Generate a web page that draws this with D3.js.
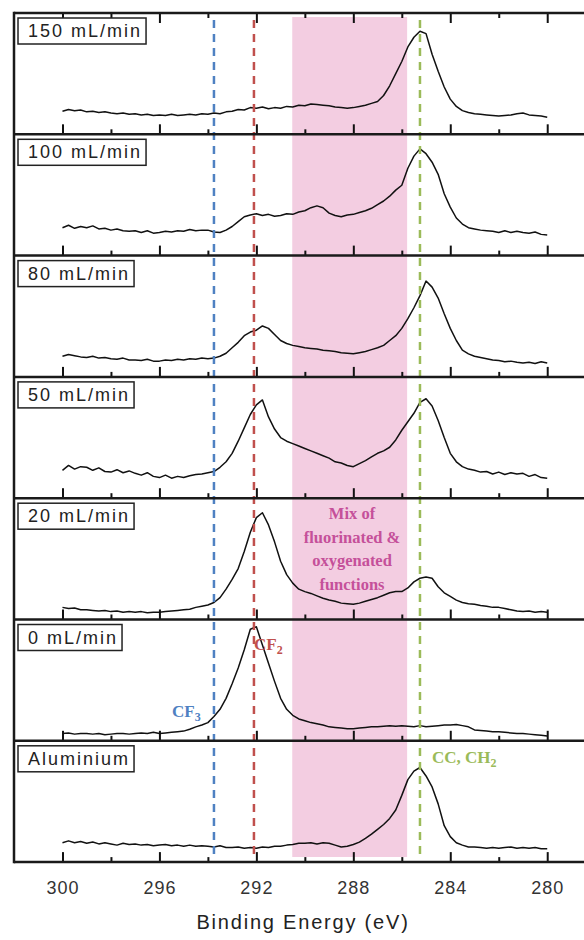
<!DOCTYPE html>
<html><head><meta charset="utf-8">
<script src="https://cdn.jsdelivr.net/npm/d3@7"></script>
<style>body{margin:0;background:#fff}svg{display:block}</style>
</head><body><svg id="c" width="584" height="940"></svg>
<script>
// Binding energy grid (eV), 300 -> 280 in 0.25 eV steps
const energies = d3.range(0, 81).map(i => 300 - i * 0.25);
const panelLabels = ["150 mL/min","100 mL/min","80 mL/min","50 mL/min","20 mL/min","0 mL/min","Aluminium"];
// intensities in % of panel height
const s150 = [19,20.5,19.5,20, 18.5,19,18,18.5, 17.5,17,17.5,16.5, 17,16,16.5,15.5, 16,15.5,16.5,15.5,
  16,16.5,16,17, 16.5,17.5,17,18.5, 19,20.5,20,22, 21.5,22.5,21,22, 21.5,23,22.5,24,
  23.5,25,24.5,24, 23.5,22.5,22,21.5, 22,23,24,25.5, 27,32,40,50, 60,72,80,85,
  83,66,52,39, 29,23,19.5,18, 17,16.5,16,15.5, 15,15.5,16,17, 17.5,16,15.5,15, 14];
const s100 = [23,25,22.5,24, 23,24.5,22,22.5, 21,22,20.5,20, 20.5,19,20.5,18.5, 19,20,19.5,20.5,
  20,21.5,20.5,21, 21,19.5,19,21, 24,28,32,33.5, 34.5,33,34,32.5, 33,34.5,34,36,
  37,39.5,41,39.5, 35,33,32,33.5, 34,35.5,37,39, 42,45,49,54, 58,72,82,88,
  84,77,67,51, 40,31,26,23, 22,21,20.5,20, 19,20.5,19,20, 19,18.5,19.5,17.5, 17];
const s80  = [17,18.5,17.5,16.5, 16,17,15.5,16, 15,14.5,15.5,14, 14,13.5,14.5,13, 13,14,13.5,14.5,
  14,15,14.5,15.5, 15,15.5,17,19.5, 24,28.5,34,37, 38.5,42,40,35, 30,27.5,26,25,
  24,23.5,23,22, 21.5,21,20,19.5, 19,20,21,22.5, 24,26,30,34, 40,48,57,67,
  79,74,65,52, 40,30,22,19, 17,16,15,14, 13.5,12.5,13,12, 11.5,12,11,12.5, 11.5];
const s50  = [23,27,24,26, 25.5,23,25,22, 21.5,23.5,21,22.5, 20.5,19,21,18, 17,19,16.5,18,
  17,18.5,19.5,20, 21,22,25.5,30, 37,47,58,69, 77,81,67,57, 50,47,45,43,
  41,39,37,35, 33,30,29,27, 26,28.5,31,34, 37,39,42,48, 56,63,70,79,
  82,76,64,50, 37,30,26,24, 23,21.5,22,20, 21.5,19.5,21,20, 20.5,18,19.5,17, 16.5];
const s20  = [10,9,9.5,8, 8,7.5,7,7.5, 6.5,7,6,6.5, 6,6.5,5.5,6, 6,6.5,7,7.5,
  8,8.5,10,11, 12,14,18,25, 33,42,56,72, 84,88,78,64, 48,37,30,25,
  23,21.5,19.5,17.5, 16,15,13.5,13, 12.5,13.5,15,16.5, 18,20,22,23, 23,26,31,34,
  35,34,27,22, 19,16,14,13, 12.5,11.5,11,10, 10,9,8,7, 6.5,7,6,6.5, 6];
const s0   = [6,6.5,5.5,6, 6,5.5,6,5, 5.5,6,6,5.5, 6,6.5,6,7, 6,6.5,7,7.5,
  8,9.5,11.5,13, 15,20,26,35, 47,60,75,92, 94,79,64,49, 35,26,21,18,
  16.5,15,14,13, 11.5,11,10.5,10, 10,10.5,11,11.5, 11.5,12,12.5,12, 12.5,12,11.5,12.5,
  11.5,12,12.5,13, 13,13.5,12.5,11.5, 9,8.5,8,7.5, 7.5,7,6.5,6, 6,5.5,5,4.5, 4];
const sAl  = [16,17.5,16,17, 15.5,16.5,15,16, 15,14,15.5,14.5, 15,14,14.5,13.5, 14,14.5,13.5,14,
  13,14,13,13.5, 13,12.5,13.5,12, 12,12.5,11.5,12, 11.5,12.5,12,13, 13,14,14.5,15.5,
  15.5,16,15,16, 15.5,14,12.5,13, 14.5,16.5,19.5,23, 27,31,36,43, 55,68,75,78,
  71,62,48,30, 21,16,14,12.5, 12.5,12,11.5,12, 11.5,12,12.5,11.5, 12,11.5,12,11, 11];
const series = [s150, s100, s80, s50, s20, s0, sAl];
const majorTicks = [300,296,292,288,284,280];
const minorTicks = [298,294,290,286,282];
const refLines = [
  {e: 293.75, color: "#4f81c2"},
  {e: 292.1, color: "#c0504d"},
  {e: 285.25, color: "#9bbb59"}
];
const bandRange = [290.52, 285.78];

const svg = d3.select("#c");
const leftX = 14, rightX = 584, topY = 13, ph = 121.3, nP = 7;
const bottomY = topY + ph * nP;
const x = d3.scaleLinear().domain([302, 278.4]).range([leftX, 586]);

// pink band
svg.append("rect")
  .attr("x", x(bandRange[0])).attr("y", 17)
  .attr("width", x(bandRange[1]) - x(bandRange[0]))
  .attr("height", 857 - 17)
  .attr("fill", "#f3cde1");

// curves
series.forEach((vals, i) => {
  const pt = topY + i * ph;
  const y = d3.scaleLinear().domain([0, 100]).range([pt + ph, pt]);
  const line = d3.line().x(d => x(d[0])).y(d => y(d[1]));
  svg.append("path")
    .datum(energies.map((e, k) => [e, vals[k]]))
    .attr("d", line)
    .attr("fill", "none").attr("stroke", "#111").attr("stroke-width", 1.5)
    .attr("stroke-linejoin", "round");
});

// reference dashed lines
refLines.forEach(r => {
  svg.append("line")
    .attr("x1", x(r.e)).attr("x2", x(r.e))
    .attr("y1", 20).attr("y2", 857)
    .attr("stroke", r.color).attr("stroke-width", 2.5)
    .attr("stroke-dasharray", "8,6");
});

// frame and ticks
for (let i = 0; i < nP; i++) {
  const pb = topY + (i + 1) * ph;
  const gMaj = svg.append("g").attr("transform", `translate(0,${pb})`)
    .call(d3.axisBottom(x).tickValues(majorTicks).tickSize(-10)
      .tickFormat(i === nP - 1 ? d3.format("d") : () => "").tickPadding(16));
  const gMin = svg.append("g").attr("transform", `translate(0,${pb})`)
    .call(d3.axisBottom(x).tickValues(minorTicks).tickSize(-5).tickFormat(() => ""));
  [gMaj, gMin].forEach(g => {
    g.select(".domain").remove();
    g.selectAll(".tick line").attr("stroke", "#111").attr("stroke-width", 2);
  });
  gMaj.selectAll(".tick text")
    .attr("font-family", "Liberation Sans, Arial, sans-serif")
    .attr("font-size", 18).attr("fill", "#333").attr("letter-spacing", "1px")
    .attr("dy", "0.9em");
}
// top ticks
const gTop = svg.append("g").attr("transform", `translate(0,${topY})`)
  .call(d3.axisTop(x).tickValues(majorTicks).tickSize(-10).tickFormat(() => ""));
const gTop2 = svg.append("g").attr("transform", `translate(0,${topY})`)
  .call(d3.axisTop(x).tickValues(minorTicks).tickSize(-5).tickFormat(() => ""));
[gTop, gTop2].forEach(g => {
  g.select(".domain").remove();
  g.selectAll(".tick line").attr("stroke", "#111").attr("stroke-width", 2);
});

for (let i = 0; i <= nP; i++) {
  const yy = topY + i * ph;
  svg.append("line").attr("x1", leftX).attr("x2", rightX).attr("y1", yy).attr("y2", yy)
    .attr("stroke", "#1a1a1a").attr("stroke-width", 2.5);
}
svg.append("line").attr("x1", leftX).attr("x2", leftX).attr("y1", topY - 1.2).attr("y2", bottomY + 1.2)
  .attr("stroke", "#1a1a1a").attr("stroke-width", 2.5);

// panel labels
panelLabels.forEach((lab, i) => {
  const pt = topY + i * ph;
  const g = svg.append("g");
  const t = g.append("text")
    .attr("x", 28).attr("y", pt + 24)
    .attr("font-family", "Liberation Sans, Arial, sans-serif")
    .attr("font-size", 18).attr("letter-spacing", "2px").attr("fill", "#222")
    .text(lab);
  const w = t.node().getComputedTextLength();
  g.insert("rect", "text")
    .attr("x", 18).attr("y", pt + 5).attr("width", w + 14).attr("height", 26)
    .attr("fill", "#fff").attr("stroke", "#222").attr("stroke-width", 1.5);
});

// axis title
svg.append("text").attr("x", 303).attr("y", 929).attr("text-anchor", "middle")
  .attr("font-family", "Liberation Sans, Arial, sans-serif")
  .attr("font-size", 20).attr("letter-spacing", "1.8px").attr("fill", "#222")
  .text("Binding Energy (eV)");

// annotations
function chem(xp, yp, main, sub, color) {
  const t = svg.append("text").attr("x", xp).attr("y", yp)
    .attr("font-family", "Liberation Serif, Times New Roman, serif")
    .attr("font-weight", "bold").attr("font-size", 17).attr("fill", color);
  t.append("tspan").text(main);
  t.append("tspan").attr("font-size", 12).attr("dy", 4).text(sub);
}
chem(172, 717, "CF", "3", "#4f81c2");
chem(254, 650, "CF", "2", "#c0504d");
chem(432, 763, "CC, CH", "2", "#9bbb59");

const mix = ["Mix of", "fluorinated &", "oxygenated", "functions"];
mix.forEach((m, k) => {
  svg.append("text").attr("x", 352).attr("y", 519 + k * 23.5).attr("text-anchor", "middle")
    .attr("font-family", "Liberation Serif, Times New Roman, serif")
    .attr("font-weight", "bold").attr("font-size", 16.5).attr("fill", "#c5509a")
    .text(m);
});
</script></body></html>
